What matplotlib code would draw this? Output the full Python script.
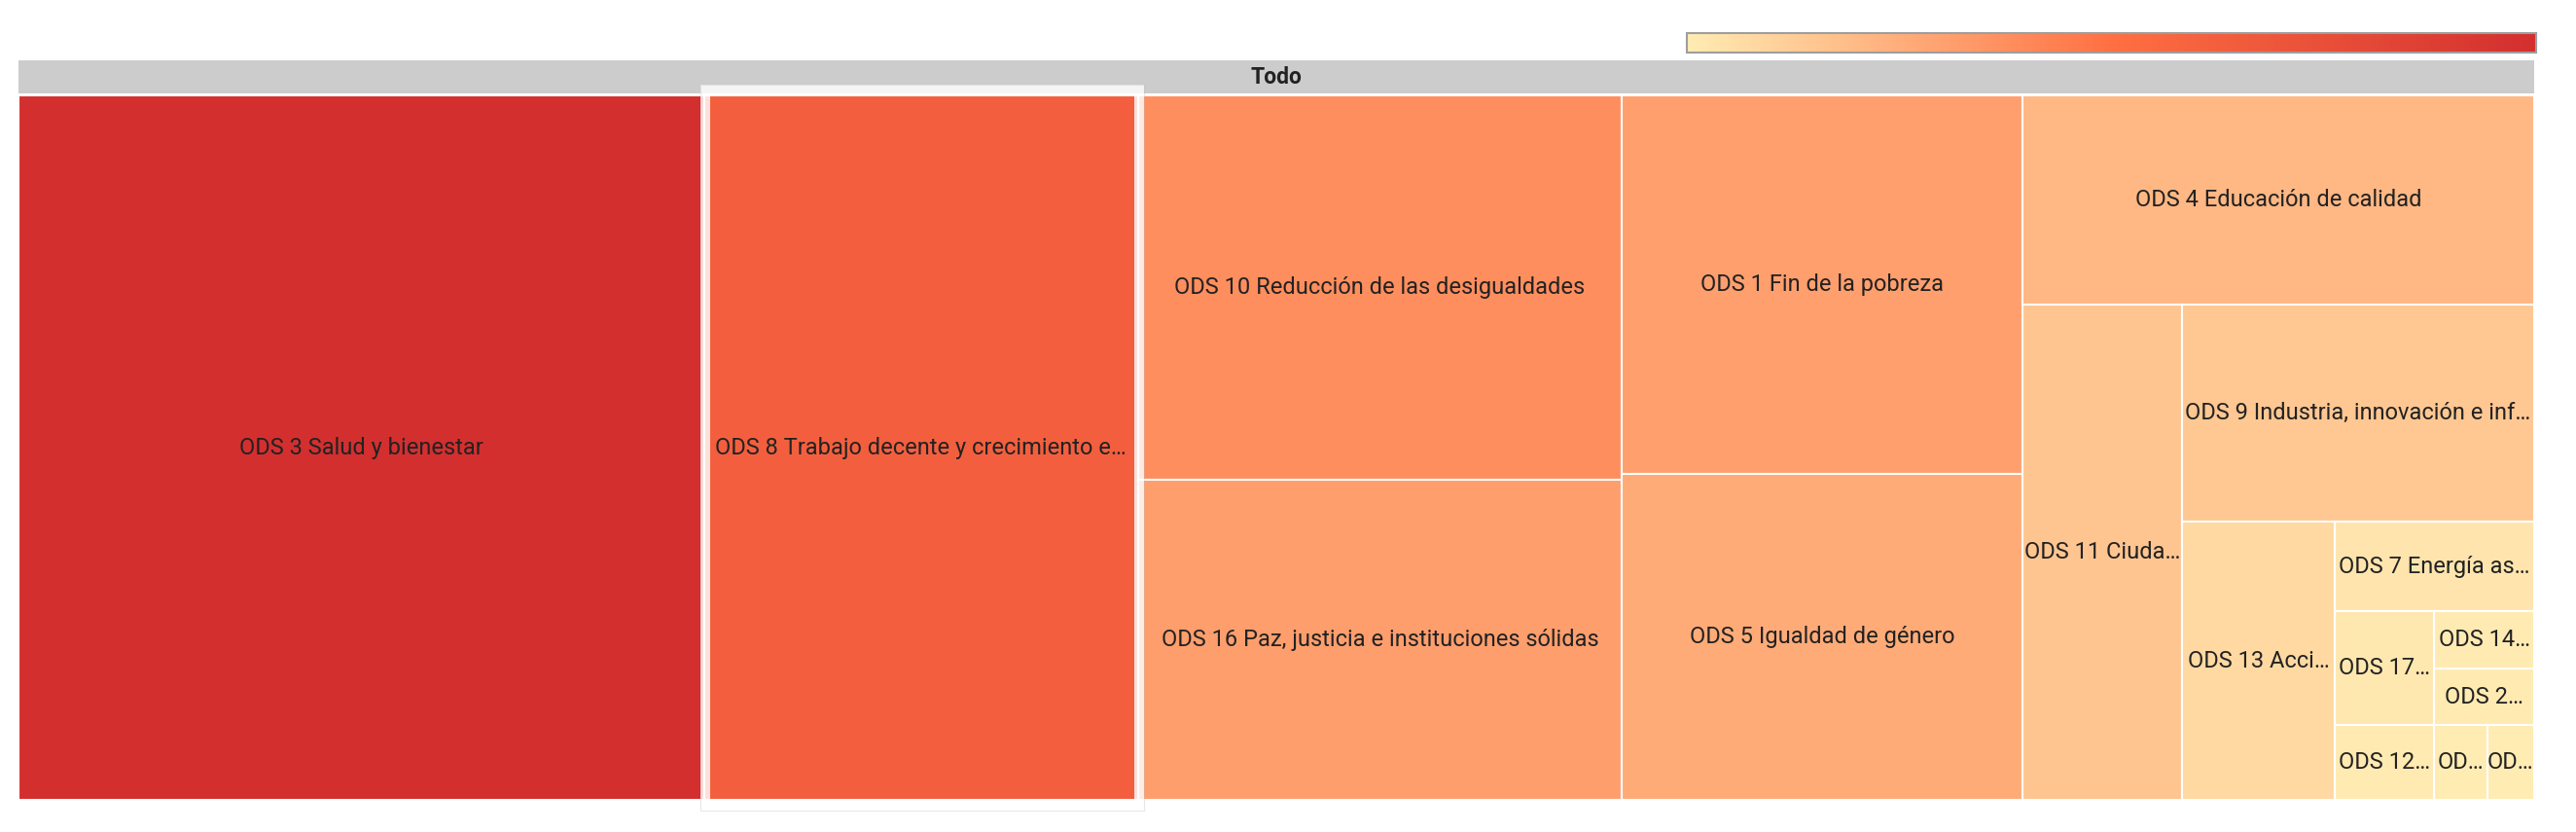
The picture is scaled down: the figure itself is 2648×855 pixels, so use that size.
import matplotlib
matplotlib.use('Agg')
import matplotlib.pyplot as plt
from matplotlib.patches import Rectangle
from matplotlib.colors import LinearSegmentedColormap, Normalize
import numpy as np

plt.rcParams['font.family'] = ['Roboto', 'DejaVu Sans']

# datos: ODS y su tamaño (ordenados de mayor a menor, como en el gráfico)
labels = ['ODS 3 Salud y bienestar',
          'ODS 8 Trabajo decente y crecimiento económico',
          'ODS 10 Reducción de las desigualdades',
          'ODS 16 Paz, justicia e instituciones sólidas',
          'ODS 1 Fin de la pobreza',
          'ODS 5 Igualdad de género',
          'ODS 4 Educación de calidad',
          'ODS 11 Ciudades y comunidades sostenibles',
          'ODS 9 Industria, innovación e infraestructura',
          'ODS 13 Acción por el clima',
          'ODS 7 Energía asequible y no contaminante',
          'ODS 17 Alianzas para lograr los objetivos',
          'ODS 12 Producción y consumo responsables',
          'ODS 14 Vida submarina',
          'ODS 2 Hambre cero',
          'ODS 6 Agua limpia y saneamiento',
          'ODS 15 Vida de ecosistemas terrestres']
values = [1105, 700, 426, 354, 347, 299, 245, 181, 175, 97, 41, 26, 17, 13, 13, 9, 8]
root_label = 'Todo'

# cuantos elementos entran en cada bloque del treemap
row_sizes = [1, 1, 2, 2, 1, 1, 1, 1, 1, 2, 1, 1, 2]
hovered = 1

W, H = 2648, 855
tm_x0, tm_x1, tm_y0, tm_y1 = 19, 2605, 98, 822
head_y0, head_y1 = 62, 96
bar_x0, bar_x1, bar_y0, bar_y1 = 1734, 2607, 34, 54

cmap = LinearSegmentedColormap.from_list('ods', [(0, '#FFECB3'), (0.5, '#FF7043'), (1, '#D32F2F')])
norm = Normalize(vmin=min(values), vmax=max(values))


def split(chunk, scale, x, y, w, h):
    # reparte un bloque cortando por su lado mas largo
    out = []
    for v in chunk:
        a = v * scale
        if w >= h:
            cw = a / h
            out.append((x, y, cw, h))
            x += cw
            w -= cw
        else:
            ch = a / w
            out.append((x, y, w, ch))
            y += ch
            h -= ch
    return out


def layout(vals, rows, x, y, w, h):
    rects = []
    scale = w * h / sum(vals)
    i = 0
    for n in rows:
        chunk = vals[i:i + n]
        s = sum(chunk) * scale
        if w >= h:
            cw = s / h
            rects += split(chunk, scale, x, y, cw, h)
            x += cw
            w -= cw
        else:
            rh = s / w
            rects += split(chunk, scale, x, y, w, rh)
            y += rh
            h -= rh
        i += n
    return rects


fig = plt.figure(figsize=(W / 100, H / 100), dpi=100)
ax = fig.add_axes([0, 0, 1, 1])
ax.set_xlim(0, W)
ax.set_ylim(H, 0)
ax.axis('off')
renderer = fig.canvas.get_renderer()

# escala de color
grad = np.linspace(0, 1, 512).reshape(1, -1)
ax.imshow(grad, cmap=cmap, extent=[bar_x0, bar_x1, bar_y1, bar_y0], aspect='auto', zorder=1)
ax.add_patch(Rectangle((bar_x0, bar_y0), bar_x1 - bar_x0, bar_y1 - bar_y0, fill=False,
                       edgecolor='#9e9e9e', lw=1.5, zorder=2))

# cabecera
ax.add_patch(Rectangle((tm_x0, head_y0), tm_x1 - tm_x0, head_y1 - head_y0, facecolor='#cccccc',
                       edgecolor='none'))
ax.text((tm_x0 + tm_x1) / 2, (head_y0 + head_y1) / 2 + 1, root_label, ha='center', va='center',
        fontsize=16.5, fontweight='bold', color='#222222')

rects = layout(values, row_sizes, tm_x0, tm_y0, tm_x1 - tm_x0, tm_y1 - tm_y0)

for k, (lab, v, (x, y, w, h)) in enumerate(zip(labels, values, rects)):
    ax.add_patch(Rectangle((x, y), w, h, facecolor=cmap(norm(v)), edgecolor='white', lw=1.5))
    t = ax.text(x + w / 2, y + h / 2, lab, ha='center', va='center', fontsize=17, color='#222222')
    avail = w - (12 if k == hovered else -0.5)
    txt = lab
    while t.get_window_extent(renderer).width > avail and len(txt) > 1:
        txt = txt[:-1].rstrip()
        t.set_text(txt + '…')

# marco de la celda seleccionada
x, y, w, h = rects[hovered]
ax.add_patch(Rectangle((x + 1, y - 5.5), w + 0.5, h + 11, fill=False, edgecolor='white',
                       alpha=0.82, lw=7.2, zorder=5))
ax.add_patch(Rectangle((x - 4, y - 11), w + 10.5, h + 22, fill=False, edgecolor='#bdbdbd',
                       alpha=0.35, lw=0.8, zorder=5))

fig.savefig('out.png', dpi=100)
